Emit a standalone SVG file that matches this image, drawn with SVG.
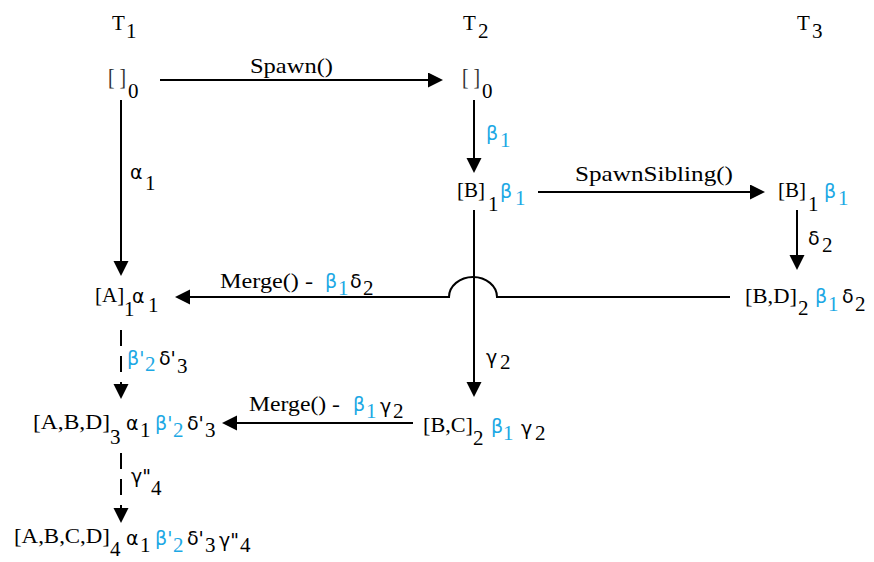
<svg xmlns="http://www.w3.org/2000/svg" width="874" height="562" viewBox="0 0 874 562">
<style>
  .s { font-family: "Liberation Serif", "Times New Roman", "DejaVu Serif", serif; font-size: 21px; fill: #000; }
  .s tspan { font-family: "Liberation Serif", "Times New Roman", "DejaVu Serif", serif; }
  .s tspan.g, .g { font-family: "DejaVu Sans", "Noto Sans", sans-serif; font-size: 19px; }
  .s tspan.br { font-size: 23px; fill: #333; }
  .c { fill: #1ca8e4; }
  .ln { fill: none; stroke: #000; stroke-width: 2; }
  .dash { stroke-dasharray: 16 10; }
</style>
<defs>
  <marker id="ah" markerUnits="userSpaceOnUse" markerWidth="16" markerHeight="16" refX="5" refY="7.5" orient="auto">
    <path d="M0,0 L15,7.5 L0,15 Z" fill="#000"/>
  </marker>
</defs>
<rect width="874" height="562" fill="#fff"/>

<g id="headers">
  <text id="T1" class="s"><tspan x="112" y="30">T</tspan><tspan x="126" y="38">1</tspan></text>
  <text id="T2" class="s"><tspan x="463" y="30">T</tspan><tspan x="478" y="38">2</tspan></text>
  <text id="T3" class="s"><tspan x="797" y="30">T</tspan><tspan x="812" y="38">3</tspan></text>
</g>

<g id="connectors">
  <g id="e-spawn">
    <path class="ln" d="M160,80 H433" marker-end="url(#ah)"/>
    <text class="s" x="250" y="73" textLength="83" lengthAdjust="spacingAndGlyphs">Spawn()</text>
  </g>
  <g id="e-alpha1">
    <path class="ln" d="M121,100 V266" marker-end="url(#ah)"/>
    <text class="s"><tspan class="g" x="130" y="179">α</tspan><tspan x="145" y="190">1</tspan></text>
  </g>
  <g id="e-beta1">
    <path class="ln" d="M474,100 V163" marker-end="url(#ah)"/>
    <text class="s c"><tspan class="g" x="486" y="140">β</tspan><tspan x="500" y="147">1</tspan></text>
  </g>
  <g id="e-spawnsibling">
    <path class="ln" d="M538,192 H755" marker-end="url(#ah)"/>
    <text class="s" x="575" y="181" textLength="158" lengthAdjust="spacingAndGlyphs">SpawnSibling()</text>
  </g>
  <g id="e-delta2">
    <path class="ln" d="M797,210 V260" marker-end="url(#ah)"/>
    <text class="s"><tspan class="g" x="808" y="245">δ</tspan><tspan x="822" y="252">2</tspan></text>
  </g>
  <g id="e-merge1">
    <path class="ln" d="M730,297 H497 A24,20 0 0 0 449,297 H185" marker-end="url(#ah)"/>
    <text class="s"><tspan x="220" y="288" textLength="93" lengthAdjust="spacingAndGlyphs">Merge() -</tspan><tspan class="g c" x="325" y="288">β</tspan><tspan class="c" x="338" y="295">1</tspan><tspan class="g" x="350" y="288">δ</tspan><tspan x="363" y="295">2</tspan></text>
  </g>
  <g id="e-gamma2">
    <path class="ln" d="M474,210 V387" marker-end="url(#ah)"/>
    <text class="s"><tspan class="g" x="486" y="364">γ</tspan><tspan x="500" y="369">2</tspan></text>
  </g>
  <g id="e-merge2">
    <path class="ln" d="M413,423 H232" marker-end="url(#ah)"/>
    <text class="s"><tspan x="249" y="411" textLength="91" lengthAdjust="spacingAndGlyphs">Merge() -</tspan><tspan class="g c" x="353" y="411">β</tspan><tspan class="c" x="366" y="418">1</tspan><tspan class="g" x="380" y="413">γ</tspan><tspan x="393" y="418">2</tspan></text>
  </g>
  <g id="e-dash1">
    <path class="ln dash" d="M121,330 V389" marker-end="url(#ah)"/>
    <text class="s"><tspan class="g c" x="127" y="365">β'</tspan><tspan class="c" x="145" y="371">2</tspan><tspan class="g" x="159" y="365">δ'</tspan><tspan x="177" y="373">3</tspan></text>
  </g>
  <g id="e-dash2">
    <path class="ln dash" d="M121,453 V513" marker-end="url(#ah)"/>
    <text class="s"><tspan class="g" x="131" y="483">γ"</tspan><tspan x="151" y="495">4</tspan></text>
  </g>
</g>

<g id="n-t1-0">
  <text class="s"><tspan class="br" x="108" y="85" textLength="18" lengthAdjust="spacingAndGlyphs">[ ]</tspan><tspan x="128" y="98">0</tspan></text>
</g>
<g id="n-t2-0">
  <text class="s"><tspan class="br" x="462" y="85" textLength="18" lengthAdjust="spacingAndGlyphs">[ ]</tspan><tspan x="482" y="98">0</tspan></text>
</g>
<g id="n-t2-1">
  <text class="s"><tspan x="457" y="197">[B]</tspan><tspan x="488" y="211">1</tspan><tspan class="g c" x="500" y="198">β</tspan><tspan class="c" x="515" y="205">1</tspan></text>
</g>
<g id="n-t3-1">
  <text class="s"><tspan x="778" y="197">[B]</tspan><tspan x="808" y="211">1</tspan><tspan class="g c" x="824" y="198">β</tspan><tspan class="c" x="838" y="205">1</tspan></text>
</g>
<g id="n-t1-1">
  <text class="s"><tspan x="95" y="302">[A]</tspan><tspan x="124" y="316">1</tspan><tspan class="g" x="132" y="303">α</tspan><tspan x="148" y="312">1</tspan></text>
</g>
<g id="n-t3-2">
  <text class="s"><tspan x="745" y="303" textLength="52" lengthAdjust="spacingAndGlyphs">[B,D]</tspan><tspan x="798" y="315">2</tspan><tspan class="g c" x="815" y="303">β</tspan><tspan class="c" x="828" y="311">1</tspan><tspan class="g" x="842" y="303">δ</tspan><tspan x="855" y="311">2</tspan></text>
</g>
<g id="n-t2-2">
  <text class="s"><tspan x="423" y="432" textLength="50" lengthAdjust="spacingAndGlyphs">[B,C]</tspan><tspan x="473" y="445">2</tspan><tspan class="g c" x="491" y="433">β</tspan><tspan class="c" x="503" y="440">1</tspan><tspan class="g" x="521" y="435">γ</tspan><tspan x="535" y="440">2</tspan></text>
</g>
<g id="n-t1-3">
  <text class="s"><tspan x="33" y="429" textLength="77" lengthAdjust="spacingAndGlyphs">[A,B,D]</tspan><tspan x="110" y="444">3</tspan><tspan class="g" x="126" y="430">α</tspan><tspan x="140" y="437">1</tspan><tspan class="g c" x="155" y="430">β'</tspan><tspan class="c" x="173" y="437">2</tspan><tspan class="g" x="187" y="430">δ'</tspan><tspan x="205" y="437">3</tspan></text>
</g>
<g id="n-t1-4">
  <text class="s"><tspan x="14" y="543" textLength="96" lengthAdjust="spacingAndGlyphs">[A,B,C,D]</tspan><tspan x="110" y="556">4</tspan><tspan class="g" x="126" y="545">α</tspan><tspan x="140" y="552">1</tspan><tspan class="g c" x="155" y="545">β'</tspan><tspan class="c" x="173" y="552">2</tspan><tspan class="g" x="187" y="545">δ'</tspan><tspan x="205" y="552">3</tspan><tspan class="g" x="219" y="547">γ"</tspan><tspan x="240" y="552">4</tspan></text>
</g>
</svg>
